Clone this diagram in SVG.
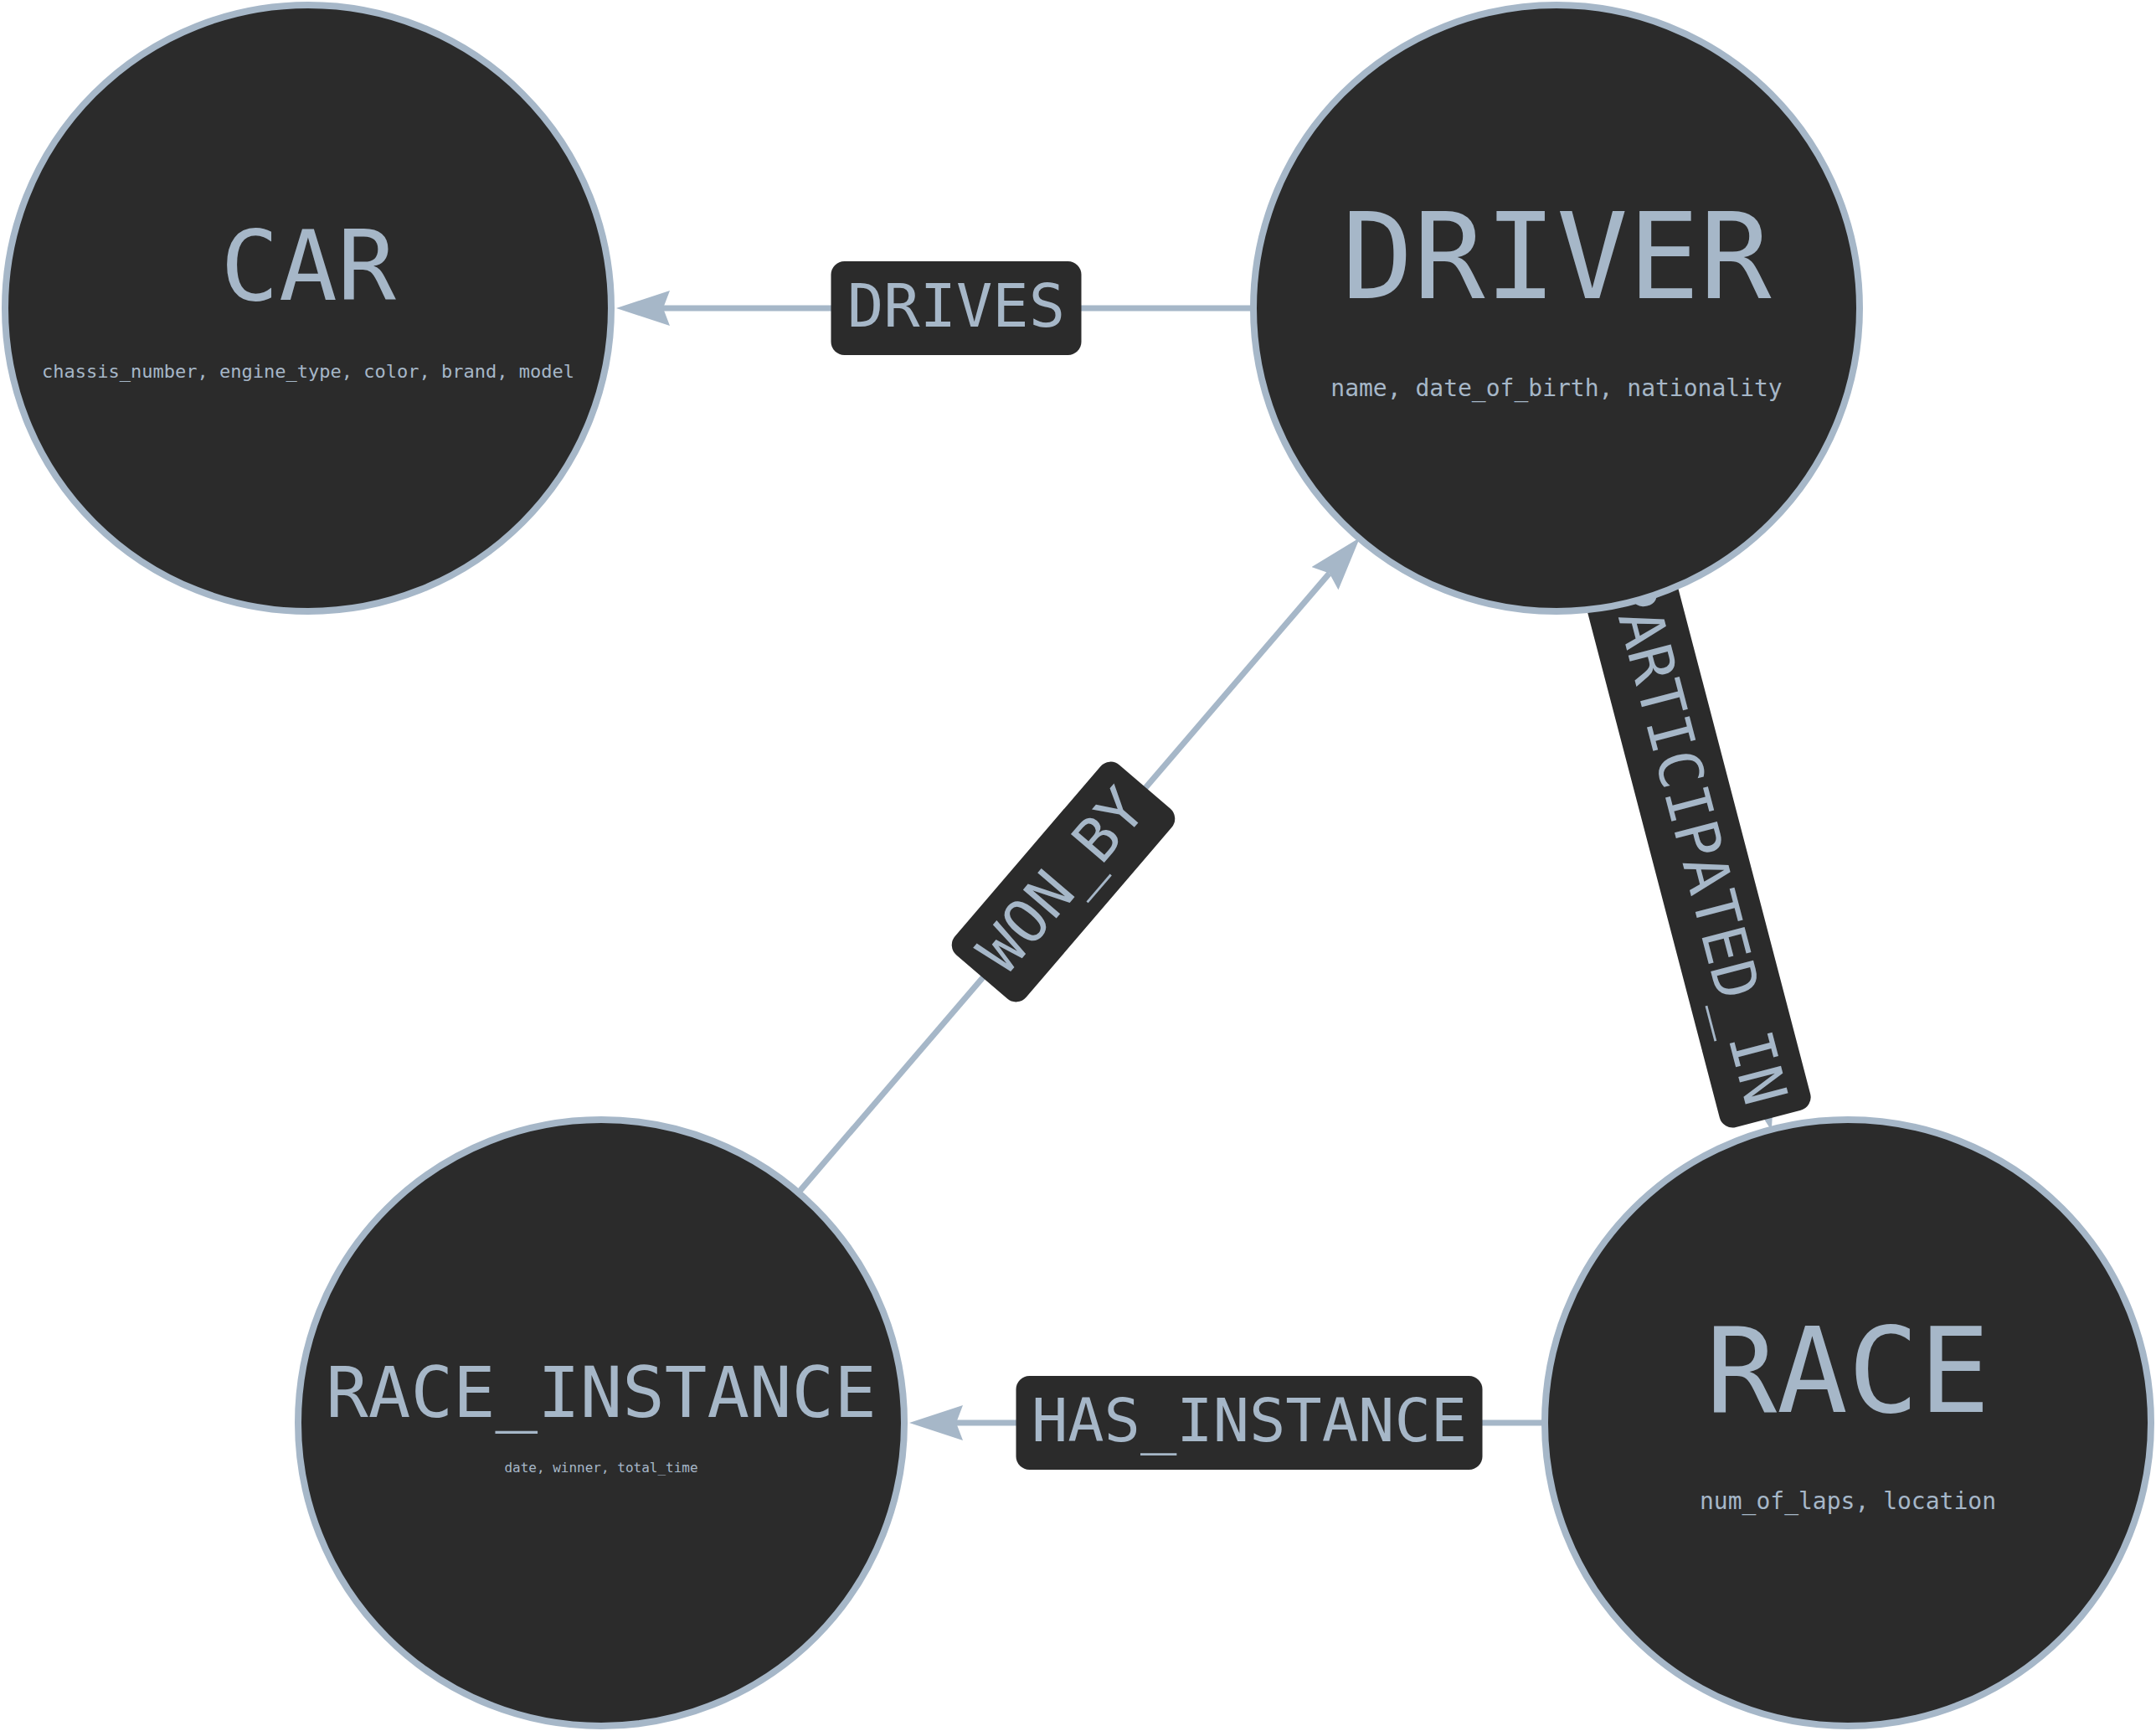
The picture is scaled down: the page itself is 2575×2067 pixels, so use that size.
<svg xmlns="http://www.w3.org/2000/svg" width="2575" height="2067" viewBox="0 0 2575 2067">
<style>
.node circle{fill:#2b2b2b;stroke:#a6b7c8;stroke-width:8}
text{font-family:"DejaVu Sans Mono","Liberation Mono",monospace;fill:#a6b7c8;text-anchor:middle}
.edge{stroke:#a6b7c8;stroke-width:7;fill:none}
.lbl rect{fill:#2b2b2b}
.lbl text{font-size:72px}
</style>
<defs>
<marker id="arrow" markerUnits="userSpaceOnUse" viewBox="0 -21 64 42" markerWidth="64" markerHeight="42" refX="8" refY="0" orient="auto">
<path d="M0,-21 L64,0 L0,21 L8,0 Z" fill="#a6b7c8"/>
</marker>
</defs>
<rect width="2575" height="2067" fill="#ffffff"/>
<g id="connectors">
<g id="edge-drives">
<line class="edge" x1="1496" y1="368" x2="792" y2="368" marker-end="url(#arrow)"/>
<g class="lbl" transform="translate(1142,368)">
<rect x="-149.5" y="-56" width="299" height="112" rx="16"/>
<text x="0" y="22">DRIVES</text>
</g>
</g>
<g id="edge-has-instance">
<line class="edge" x1="1844" y1="1699" x2="1142" y2="1699" marker-end="url(#arrow)"/>
<g class="lbl" transform="translate(1492,1699)">
<rect x="-278.5" y="-56" width="557" height="112" rx="16"/>
<text x="0" y="22">HAS_INSTANCE</text>
</g>
</g>
<g id="edge-won-by">
<line class="edge" x1="954.2" y1="1423.4" x2="1587.7" y2="684.6" marker-end="url(#arrow)"/>
<g class="lbl" transform="translate(1270,1053) rotate(-49.4)">
<rect x="-149.5" y="-56" width="299" height="112" rx="16"/>
<text x="0" y="22">WON_BY</text>
</g>
</g>
<g id="edge-participated-in">
<line class="edge" x1="1950.8" y1="719.2" x2="2101.6" y2="1295.9" marker-end="url(#arrow)"/>
<g class="lbl" transform="translate(2025,1003) rotate(75.35)">
<rect x="-344" y="-56" width="688" height="112" rx="16"/>
<text x="0" y="22">PARTICIPATED_IN</text>
</g>
</g>
</g>
<g id="node-car" class="node">
<circle cx="368" cy="368" r="362"/>
<text x="368" y="358" font-size="116">CAR</text>
<text x="368" y="451" font-size="22">chassis_number, engine_type, color, brand, model</text>
</g>
<g id="node-driver" class="node">
<circle cx="1859" cy="368" r="362"/>
<text x="1859" y="356" font-size="142">DRIVER</text>
<text x="1859" y="473" font-size="28">name, date_of_birth, nationality</text>
</g>
<g id="node-race" class="node">
<circle cx="2207" cy="1699" r="362"/>
<text x="2207" y="1686" font-size="141">RACE</text>
<text x="2207" y="1802" font-size="28">num_of_laps, location</text>
</g>
<g id="node-race-instance" class="node">
<circle cx="718" cy="1699" r="362"/>
<text x="718" y="1692" font-size="84">RACE_INSTANCE</text>
<text x="718" y="1758" font-size="16">date, winner, total_time</text>
</g>
</svg>
